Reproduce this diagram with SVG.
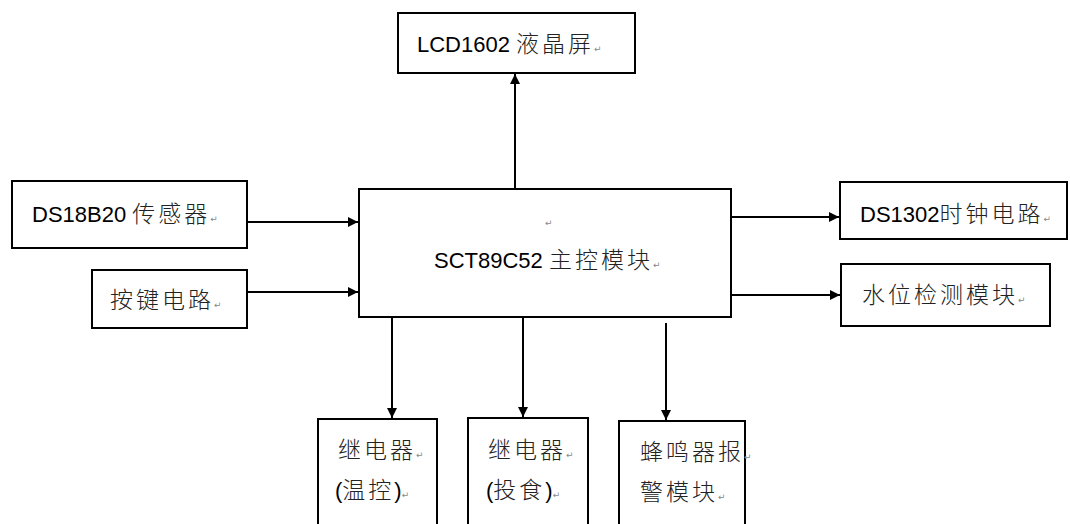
<svg xmlns="http://www.w3.org/2000/svg" width="1070" height="524" viewBox="0 0 1070 524">
<style>
.box{fill:#fff;stroke:#000;stroke-width:2}
.lat{font-family:"Liberation Sans","Noto Sans CJK SC",sans-serif;font-size:22px;fill:#000}
.cjk{font-family:"Noto Sans CJK SC",sans-serif;font-size:23px;fill:#222;letter-spacing:3px;font-weight:300}
.pm{font-family:"DejaVu Sans",sans-serif;font-size:9px;fill:#888;letter-spacing:0}
.wire{stroke:#000;stroke-width:2;fill:none;marker-end:url(#ah)}
</style>
<defs>
<marker id="ah" markerWidth="10" markerHeight="10" refX="10" refY="5" orient="auto" markerUnits="userSpaceOnUse">
<path d="M0,0 L10,5 L0,10 z" fill="#000"/>
</marker>
</defs>
<rect width="1070" height="524" fill="#fff"/>
<g id="connectors">
<line class="wire" x1="515" y1="188" x2="515" y2="74"/>
<line class="wire" x1="247" y1="222" x2="358" y2="222"/>
<line class="wire" x1="247" y1="292" x2="358" y2="292"/>
<line class="wire" x1="731" y1="217" x2="839" y2="217"/>
<line class="wire" x1="731" y1="295" x2="840" y2="295"/>
<line class="wire" x1="392" y1="318" x2="392" y2="418"/>
<line class="wire" x1="523" y1="318" x2="523" y2="417"/>
<line class="wire" x1="666" y1="323" x2="666" y2="420"/>
</g>
<g id="lcd">
<rect class="box" x="398" y="13" width="237" height="60"/>
<text x="417" y="52"><tspan class="lat">LCD1602 </tspan><tspan class="cjk">液晶屏</tspan><tspan class="pm">↵</tspan></text>
</g>
<g id="main">
<rect class="box" x="359" y="189" width="372" height="128"/>
<text x="545" y="226" class="pm">↵</text>
<text x="434" y="268"><tspan class="lat">SCT89C52 </tspan><tspan class="cjk">主控模块</tspan><tspan class="pm">↵</tspan></text>
</g>
<g id="ds18b20">
<rect class="box" x="12" y="181" width="235" height="67"/>
<text x="32" y="222"><tspan class="lat">DS18B20 </tspan><tspan class="cjk">传感器</tspan><tspan class="pm">↵</tspan></text>
</g>
<g id="keys">
<rect class="box" x="92" y="270" width="155" height="58"/>
<text x="110" y="308"><tspan class="cjk">按键电路</tspan><tspan class="pm">↵</tspan></text>
</g>
<g id="ds1302">
<rect class="box" x="840" y="182" width="227" height="57"/>
<text x="860" y="222"><tspan class="lat">DS1302</tspan><tspan class="cjk">时钟电路</tspan><tspan class="pm">↵</tspan></text>
</g>
<g id="water">
<rect class="box" x="841" y="264" width="209" height="62"/>
<text x="862" y="303"><tspan class="cjk">水位检测模块</tspan><tspan class="pm">↵</tspan></text>
</g>
<g id="relay1">
<rect class="box" x="318" y="419" width="119" height="110"/>
<text x="338" y="458"><tspan class="cjk">继电器</tspan><tspan class="pm">↵</tspan></text>
<text x="335" y="498"><tspan class="lat">(</tspan><tspan class="cjk" letter-spacing="1">温控</tspan><tspan class="lat">)</tspan><tspan class="pm">↵</tspan></text>
</g>
<g id="relay2">
<rect class="box" x="468" y="418" width="120" height="111"/>
<text x="488" y="458"><tspan class="cjk">继电器</tspan><tspan class="pm">↵</tspan></text>
<text x="486" y="498"><tspan class="lat">(</tspan><tspan class="cjk" letter-spacing="1">投食</tspan><tspan class="lat">)</tspan><tspan class="pm">↵</tspan></text>
</g>
<g id="buzzer">
<rect class="box" x="619" y="421" width="126" height="108"/>
<text x="640" y="460"><tspan class="cjk">蜂鸣器报</tspan><tspan class="pm">↵</tspan></text>
<text x="640" y="500"><tspan class="cjk">警模块</tspan><tspan class="pm">↵</tspan></text>
</g>
</svg>
